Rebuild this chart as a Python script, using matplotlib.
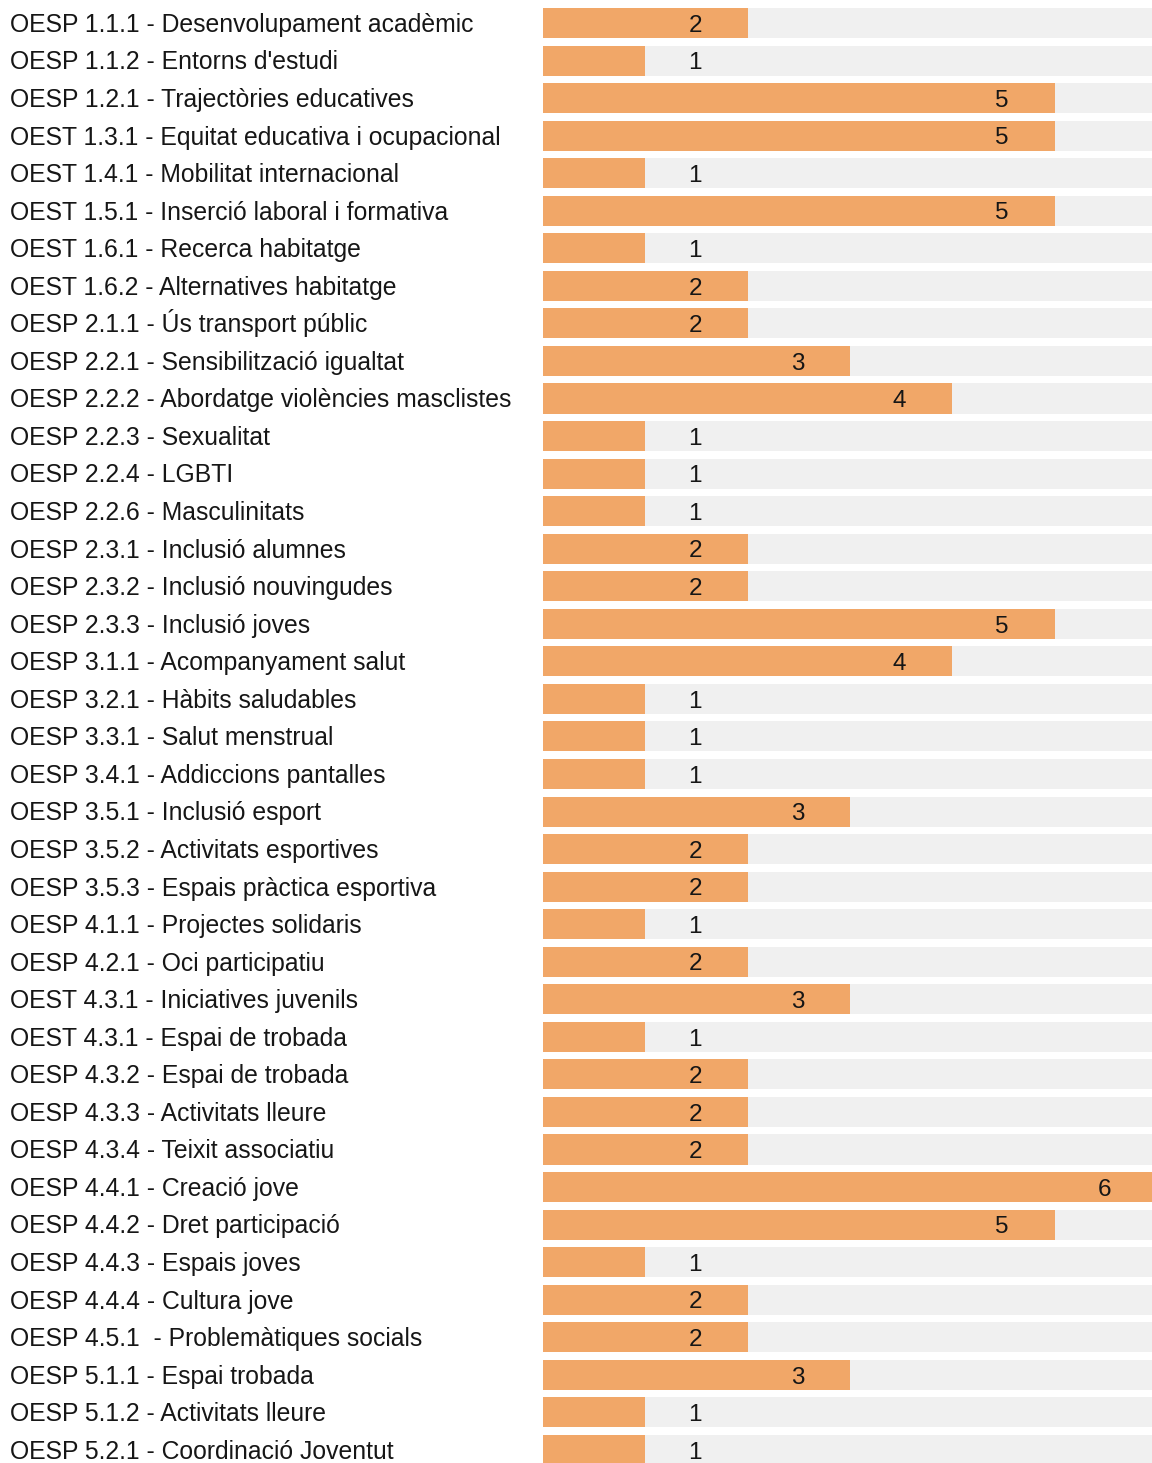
import matplotlib
matplotlib.use("Agg")
import matplotlib.pyplot as plt
import matplotlib.transforms as mtransforms

categories = [
    "OESP 1.1.1 - Desenvolupament acadèmic",
    "OESP 1.1.2 - Entorns d'estudi",
    "OESP 1.2.1 - Trajectòries educatives",
    "OEST 1.3.1 - Equitat educativa i ocupacional",
    "OEST 1.4.1 - Mobilitat internacional",
    "OEST 1.5.1 - Inserció laboral i formativa",
    "OEST 1.6.1 - Recerca habitatge",
    "OEST 1.6.2 - Alternatives habitatge",
    "OESP 2.1.1 - Ús transport públic",
    "OESP 2.2.1 - Sensibilització igualtat",
    "OESP 2.2.2 - Abordatge violències masclistes",
    "OESP 2.2.3 - Sexualitat",
    "OESP 2.2.4 - LGBTI",
    "OESP 2.2.6 - Masculinitats",
    "OESP 2.3.1 - Inclusió alumnes",
    "OESP 2.3.2 - Inclusió nouvingudes",
    "OESP 2.3.3 - Inclusió joves",
    "OESP 3.1.1 - Acompanyament salut",
    "OESP 3.2.1 - Hàbits saludables",
    "OESP 3.3.1 - Salut menstrual",
    "OESP 3.4.1 - Addiccions pantalles",
    "OESP 3.5.1 - Inclusió esport",
    "OESP 3.5.2 - Activitats esportives",
    "OESP 3.5.3 - Espais pràctica esportiva",
    "OESP 4.1.1 - Projectes solidaris",
    "OESP 4.2.1 - Oci participatiu",
    "OEST 4.3.1 - Iniciatives juvenils",
    "OEST 4.3.1 - Espai de trobada",
    "OESP 4.3.2 - Espai de trobada",
    "OESP 4.3.3 - Activitats lleure",
    "OESP 4.3.4 - Teixit associatiu",
    "OESP 4.4.1 - Creació jove",
    "OESP 4.4.2 - Dret participació",
    "OESP 4.4.3 - Espais joves",
    "OESP 4.4.4 - Cultura jove",
    "OESP 4.5.1  - Problemàtiques socials",
    "OESP 5.1.1 - Espai trobada",
    "OESP 5.1.2 - Activitats lleure",
    "OESP 5.2.1 - Coordinació Joventut",
]
values = [2, 1, 5, 5, 1, 5, 1, 2, 2, 3, 4, 1, 1, 1, 2, 2, 5, 4, 1, 1, 1, 3, 2, 2,
          1, 2, 3, 1, 2, 2, 2, 6, 5, 1, 2, 2, 3, 1, 1]
max_value = 6

W, H, DPI = 1152, 1463, 100
plt.rcParams['font.family'] = ['Liberation Sans', 'DejaVu Sans']
fig = plt.figure(figsize=(W / DPI, H / DPI), dpi=DPI)
fig.patch.set_facecolor('white')

x0 = 543 / W
ax = fig.add_axes([x0, 0, 1 - x0, 1])
pitch = 37.55
top_c = 23
ax.set_ylim((H - top_c) / pitch, -top_c / pitch)
ax.set_xlim(0, (W - 543) / 102.35)
ax.axis('off')

ys = list(range(len(categories)))
bar_color = '#F1A768'
bg_color = '#F0F0F0'
ax.barh(ys, [max_value] * len(ys), height=0.8, color=bg_color, linewidth=0)
ax.barh(ys, values, height=0.8, color=bar_color, linewidth=0)

fs_lab = 17.85
fs_val = 17.5
cap_lab = 0.716 * fs_lab * DPI / 72
cap_val = 0.716 * fs_val * DPI / 72
blend = mtransforms.blended_transform_factory(fig.transFigure, ax.transData)
lab_tr = mtransforms.offset_copy(blend, fig=fig, x=0, y=-cap_lab / 2, units='dots')
val_tr = mtransforms.offset_copy(ax.transData, fig=fig, x=-1.5, y=-cap_val / 2, units='dots')

for y, cat, v in zip(ys, categories, values):
    ax.text(10 / W, y, cat, transform=lab_tr, ha='left', va='baseline',
            fontsize=fs_lab, color='#161616', clip_on=False)
    ax.text(max(v - 0.5, 1.5), y, str(v), transform=val_tr, ha='center',
            va='baseline', fontsize=fs_val, color='#161616')

fig.savefig('out.png', dpi=DPI, facecolor='white')
